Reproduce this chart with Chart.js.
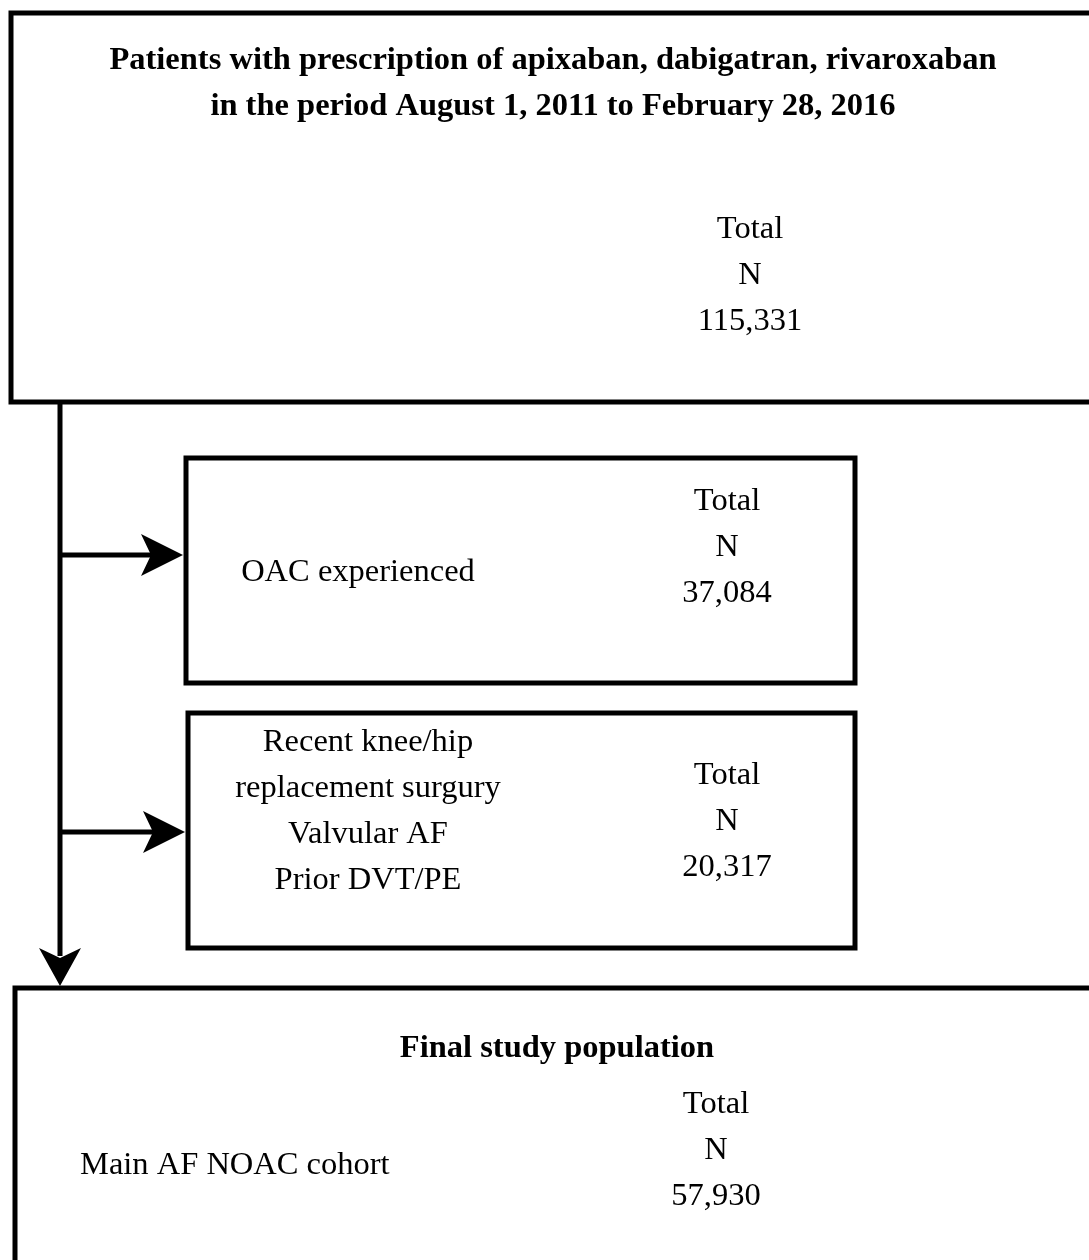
<!DOCTYPE html>
<html>
<head>
<meta charset="utf-8">
<script src="https://cdn.jsdelivr.net/npm/chart.js@4.4.1/dist/chart.umd.min.js"></script>
<style>
  html, body { margin: 0; padding: 0; background: #fff; }
  #wrap { width: 1089px; height: 1260px; }
</style>
</head>
<body>
<div id="wrap"><canvas id="flowChart" width="1089" height="1260"></canvas></div>
<script>
// stages of the cohort selection
const stageTitles = [
    ['Patients with prescription of apixaban, dabigatran, rivaroxaban', 'in the period August 1, 2011 to February 28, 2016'],
    [],
    [],
    ['Final study population']
];
const stageLabels = [
    [],
    ['OAC experienced'],
    ['Recent knee/hip', 'replacement surgury', 'Valvular AF', 'Prior DVT/PE'],
    ['Main AF NOAC cohort']
];
const stageTotals = [115331, 37084, 20317, 57930];
const totalHeader = ['Total', 'N'];

// box layout in page units (x0, y0, x1, y1), plus text anchors
const boxes = [
    { x0: 11, y0: 13, x1: 1100, y1: 402, titleX: 553, titleY: 61, totX: 750, totY: 229 },
    { x0: 186, y0: 458, x1: 855, y1: 683, labelX: 358, labelY: 572, totX: 727, totY: 501 },
    { x0: 188, y0: 713, x1: 855, y1: 948, labelX: 368, labelY: 742, totX: 727, totY: 775 },
    { x0: 15, y0: 988, x1: 1100, y1: 1300, titleX: 557, titleY: 1049, labelX: 80, labelY: 1165, labelAlign: 'left', totX: 716, totY: 1104 }
];
const trunkX = 60;
const lineGap = 46;

const fmt = n => n.toLocaleString('en-US');

const flowPlugin = {
    id: 'flow',
    afterDraw(chart) {
        const c = chart.ctx;
        const xs = chart.scales.x, ys = chart.scales.y;
        const px = v => xs.getPixelForValue(v);
        const py = v => ys.getPixelForValue(v);
        c.save();
        c.strokeStyle = '#000';
        c.fillStyle = '#000';
        c.lineWidth = 5;
        c.lineJoin = 'miter';

        boxes.forEach((b, i) => {
            c.strokeRect(px(b.x0), py(b.y0), px(b.x1) - px(b.x0), py(b.y1) - py(b.y0));
            c.textBaseline = 'middle';
            // bold titles
            c.font = 'bold 32.5px "Liberation Serif"';
            c.textAlign = 'center';
            stageTitles[i].forEach((t, k) => c.fillText(t, px(b.titleX), py(b.titleY + k * lineGap)));
            // labels
            c.font = '32.5px "Liberation Serif"';
            c.textAlign = b.labelAlign || 'center';
            stageLabels[i].forEach((t, k) => c.fillText(t, px(b.labelX), py(b.labelY + k * lineGap)));
            // totals
            c.textAlign = 'center';
            const lines = totalHeader.concat([fmt(stageTotals[i])]);
            lines.forEach((t, k) => c.fillText(t, px(b.totX), py(b.totY + k * lineGap)));
        });

        // trunk line
        const tipY = boxes[3].y0 - 2;
        c.beginPath();
        c.moveTo(px(trunkX), py(boxes[0].y1));
        c.lineTo(px(trunkX), py(tipY - 30));
        c.stroke();
        // down arrow head
        c.beginPath();
        c.moveTo(px(trunkX), py(tipY));
        c.lineTo(px(trunkX - 21), py(tipY - 38));
        c.lineTo(px(trunkX), py(tipY - 28));
        c.lineTo(px(trunkX + 21), py(tipY - 38));
        c.closePath();
        c.fill();

        // side arrows to exclusion boxes
        [555, 832].forEach((ay, k) => {
            const tip = boxes[k + 1].x0 - 3;
            c.beginPath();
            c.moveTo(px(trunkX), py(ay));
            c.lineTo(px(tip - 30), py(ay));
            c.stroke();
            c.beginPath();
            c.moveTo(px(tip), py(ay));
            c.lineTo(px(tip - 42), py(ay - 21));
            c.lineTo(px(tip - 32), py(ay));
            c.lineTo(px(tip - 42), py(ay + 21));
            c.closePath();
            c.fill();
        });
        c.restore();
    }
};

new Chart(document.getElementById('flowChart').getContext('2d'), {
    type: 'scatter',
    data: { datasets: [{ data: [] }] },
    options: {
        responsive: false,
        animation: false,
        devicePixelRatio: 1,
        layout: { padding: 0 },
        plugins: { legend: { display: false }, tooltip: { enabled: false } },
        scales: {
            x: { type: 'linear', min: 0, max: 1089, display: false },
            y: { type: 'linear', min: 0, max: 1260, reverse: true, display: false }
        }
    },
    plugins: [flowPlugin]
});
</script>
</body>
</html>
